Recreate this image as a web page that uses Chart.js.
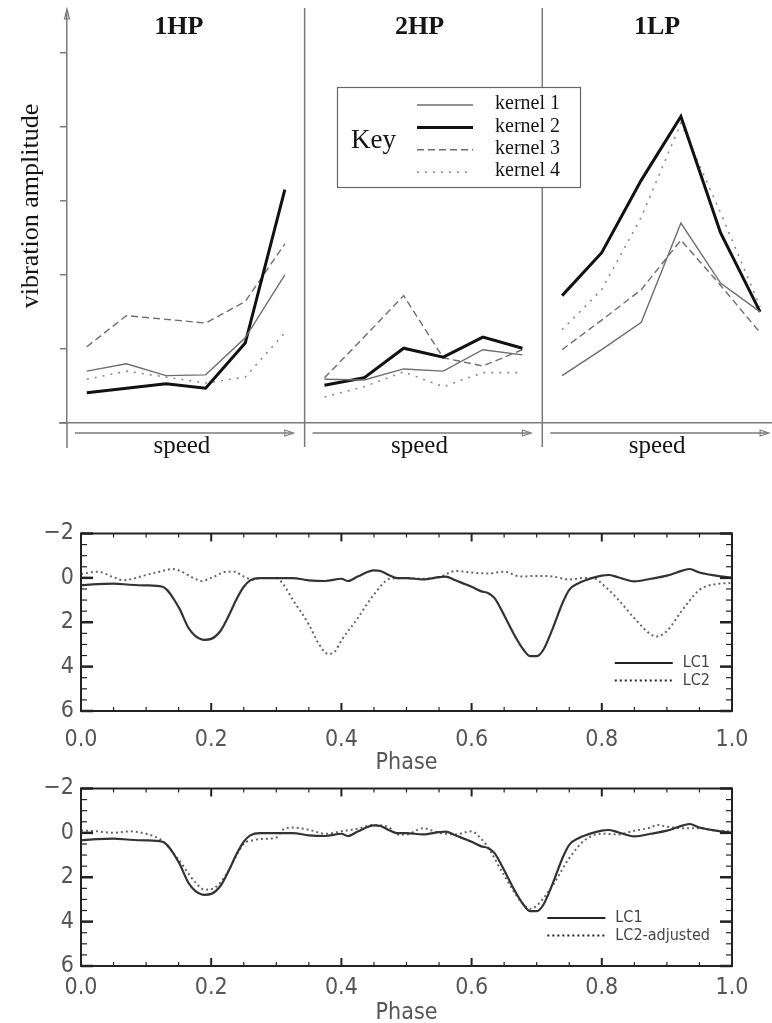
<!DOCTYPE html>
<html>
<head>
<meta charset="utf-8">
<script src="https://cdn.jsdelivr.net/npm/chart.js@4/dist/chart.umd.min.js"></script>
<style>
html, body { margin: 0; padding: 0; background: #fff; width: 772px; height: 1023px; overflow: hidden; }
.wrap { position: absolute; left: 0; width: 772px; }
</style>
</head>
<body>
<div class="wrap" style="top:0;height:470px"><canvas id="kernels"></canvas></div>
<div class="wrap" style="top:515px;height:260px"><canvas id="lcA"></canvas></div>
<div class="wrap" style="top:770px;height:260px"><canvas id="lcB"></canvas></div>
<script>
// ---------- top figure: vibration amplitude vs speed ----------
const panels = ['1HP', '2HP', '1LP'];
const speedSteps = [0, 1, 2, 3, 4, 5];
const kernelNames = ['kernel 1', 'kernel 2', 'kernel 3', 'kernel 4'];
// 6 speeds per panel, panels in order 1HP, 2HP, 1LP
const kernel1 = [0.70, 0.80, 0.64, 0.65, 1.15, 2.00,  0.59, 0.58, 0.73, 0.70, 0.99, 0.92,  0.64, 0.99, 1.36, 2.70, 1.89, 1.50];
const kernel2 = [0.41, 0.47, 0.53, 0.47, 1.08, 3.15,  0.51, 0.61, 1.01, 0.89, 1.16, 1.01,  1.72, 2.30, 3.28, 4.14, 2.57, 1.50];
const kernel3 = [1.03, 1.45, 1.40, 1.35, 1.64, 2.42,  0.61, 1.16, 1.72, 0.88, 0.77, 0.99,  0.99, 1.39, 1.80, 2.47, 1.86, 1.22];
const kernel4 = [0.59, 0.70, 0.62, 0.54, 0.62, 1.22,  0.35, 0.49, 0.69, 0.49, 0.68, 0.68,  1.26, 1.80, 2.78, 4.05, 2.84, 1.57];

// ---------- light curves ----------
const lc1Phase = [0, 0.025, 0.05, 0.075, 0.1, 0.125, 0.15, 0.165, 0.175, 0.19, 0.2, 0.215, 0.225, 0.24, 0.25, 0.26, 0.275, 0.3, 0.325, 0.35, 0.375, 0.4, 0.41, 0.425, 0.45, 0.46, 0.475, 0.485, 0.5, 0.525, 0.55, 0.56, 0.575, 0.6, 0.615, 0.625, 0.635, 0.65, 0.665, 0.68, 0.69, 0.7, 0.71, 0.725, 0.74, 0.75, 0.765, 0.775, 0.8, 0.81, 0.825, 0.85, 0.875, 0.9, 0.925, 0.935, 0.95, 0.975, 1.0];
const lc1Mag = [0.33, 0.28, 0.26, 0.31, 0.34, 0.40, 1.32, 2.25, 2.6, 2.79, 2.75, 2.36, 1.82, 0.9, 0.40, 0.11, 0.01, 0.01, 0.01, 0.11, 0.14, 0.04, 0.14, -0.06, -0.34, -0.31, -0.10, 0.01, 0.01, 0.07, -0.03, -0.06, 0.11, 0.40, 0.61, 0.68, 0.9, 1.68, 2.54, 3.25, 3.53, 3.53, 3.25, 2.25, 1.11, 0.54, 0.23, 0.11, -0.10, -0.13, -0.03, 0.16, 0.04, -0.10, -0.34, -0.40, -0.24, -0.10, 0.0];

const lc2Phase = [0, 0.025, 0.05, 0.065, 0.075, 0.1, 0.125, 0.14, 0.15, 0.175, 0.185, 0.2, 0.225, 0.235, 0.25, 0.265, 0.275, 0.3, 0.31, 0.325, 0.35, 0.365, 0.38, 0.39, 0.4, 0.425, 0.45, 0.475, 0.5, 0.525, 0.55, 0.575, 0.6, 0.625, 0.65, 0.675, 0.7, 0.725, 0.75, 0.775, 0.79, 0.8, 0.825, 0.85, 0.875, 0.885, 0.9, 0.925, 0.95, 0.975, 1.0];
const lc2Mag = [-0.17, -0.28, -0.03, 0.11, 0.07, -0.13, -0.31, -0.40, -0.34, 0.04, 0.14, 0.0, -0.28, -0.28, -0.06, 0.08, 0.0, 0.0, 0.26, 0.97, 2.1, 2.96, 3.43, 3.32, 2.82, 1.82, 0.75, 0.04, 0.01, 0.04, -0.03, -0.31, -0.24, -0.2, -0.28, -0.06, -0.09, -0.06, 0.07, 0.0, 0.04, 0.26, 0.97, 1.82, 2.54, 2.64, 2.39, 1.40, 0.54, 0.28, 0.23];

const lc2aPhase = [0, 0.025, 0.05, 0.075, 0.1, 0.125, 0.15, 0.175, 0.19, 0.2, 0.215, 0.225, 0.25, 0.265, 0.275, 0.3, 0.31, 0.325, 0.35, 0.375, 0.4, 0.425, 0.45, 0.475, 0.485, 0.5, 0.525, 0.55, 0.575, 0.6, 0.615, 0.625, 0.65, 0.675, 0.69, 0.7, 0.725, 0.75, 0.775, 0.8, 0.825, 0.85, 0.875, 0.885, 0.9, 0.925, 0.95, 0.975, 1.0];
const lc2aMag = [-0.11, -0.07, 0.0, -0.07, 0.04, 0.36, 1.21, 2.21, 2.56, 2.54, 2.21, 1.78, 0.5, 0.33, 0.28, 0.21, -0.14, -0.24, -0.14, 0.04, -0.07, -0.19, -0.36, -0.21, 0.07, 0.07, -0.21, 0.0, 0.07, -0.07, 0.28, 0.64, 1.92, 3.06, 3.42, 3.28, 2.35, 1.14, 0.3, 0.04, 0.07, -0.1, -0.24, -0.36, -0.28, -0.21, -0.21, -0.1, -0.07];

const phaseTicks = [0, 0.2, 0.4, 0.6, 0.8, 1.0];
const magTicks = [-2, 0, 2, 4, 6];

const SERIF = "'Liberation Serif', 'Times New Roman', 'DejaVu Serif', serif";
const NARROW = "'Liberation Sans Narrow', 'DejaVu Sans Condensed', 'Arial Narrow', sans-serif";

function seg(ctx, x0, y0, x1, y1) {
    ctx.beginPath();
    ctx.moveTo(x0, y0);
    ctx.lineTo(x1, y1);
    ctx.stroke();
}

// one line per kernel, broken between panels
function kernelPoints(values) {
    const pts = [];
    panels.forEach((name, p) => {
        speedSteps.forEach(s => pts.push({ x: p * 6 + s, y: values[p * 6 + s] }));
        pts.push({ x: p * 6 + 5.5, y: null });
    });
    return pts;
}

// axes, panel dividers, titles and the key box
const panelDecor = {
    id: 'panelDecor',
    afterDraw(chart) {
        const { ctx, chartArea: a, scales: { x } } = chart;
        ctx.save();
        ctx.strokeStyle = '#7a7a7a';
        ctx.lineWidth = 1.5;
        seg(ctx, a.left, a.bottom, a.left, 448);
        seg(ctx, 59, a.bottom, a.left, a.bottom);
        ctx.lineWidth = 1.2;
        ctx.beginPath();
        ctx.moveTo(a.left, a.top - 3);
        ctx.lineTo(a.left - 2.5, a.top + 7);
        ctx.lineTo(a.left + 2.5, a.top + 7);
        ctx.closePath();
        ctx.stroke();

        ctx.lineWidth = 1.5;
        for (let p = 1; p < panels.length; p++) {
            const px = x.getPixelForValue(p * 6 - 0.5);
            seg(ctx, px, 8, px, 447);
        }

        panels.forEach((name, p) => {
            const x0 = x.getPixelForValue(p * 6 - 0.3);
            const x1 = x.getPixelForValue(p * 6 + 5.2);
            ctx.strokeStyle = '#7a7a7a';
            ctx.lineWidth = 1.5;
            seg(ctx, x0, 433, x1, 433);
            ctx.lineWidth = 1.1;
            ctx.beginPath();
            ctx.moveTo(x1 + 1, 433);
            ctx.lineTo(x1 - 8, 430);
            ctx.lineTo(x1 - 8, 436);
            ctx.closePath();
            ctx.stroke();
            const cx = x.getPixelForValue(p * 6 + 2.4);
            ctx.fillStyle = '#151515';
            ctx.textAlign = 'center';
            ctx.textBaseline = 'middle';
            ctx.font = '25px ' + SERIF;
            ctx.fillText('speed', cx, 446);
            ctx.font = 'bold 26px ' + SERIF;
            ctx.fillText(name, cx - (p === 0 ? 3 : 0), 27);
        });

        ctx.save();
        ctx.translate(31, 206);
        ctx.rotate(-Math.PI / 2);
        ctx.font = '26px ' + SERIF;
        ctx.fillText('vibration amplitude', 0, 0);
        ctx.restore();

        // key
        ctx.fillStyle = '#fff';
        ctx.fillRect(337, 87, 243, 100);
        ctx.strokeStyle = '#666';
        ctx.lineWidth = 1.2;
        ctx.strokeRect(337.5, 87.5, 243, 100);
        ctx.fillStyle = '#151515';
        ctx.textAlign = 'left';
        ctx.font = '27px ' + SERIF;
        ctx.fillText('Key', 351, 141);
        ctx.font = '20px ' + SERIF;
        chart.data.datasets.forEach((ds, i) => {
            const ry = 104 + i * 22.4;
            ctx.strokeStyle = ds.borderColor;
            ctx.lineWidth = ds.borderWidth;
            ctx.setLineDash(ds.borderDash || []);
            seg(ctx, 417, ry + 1, 473, ry + 1);
            ctx.setLineDash([]);
            ctx.fillText(ds.label, 495, ry);
        });
        ctx.restore();
    }
};

const kernelStyles = [
    { borderColor: '#6e6e6e', borderWidth: 1.4, borderDash: [] },
    { borderColor: '#111111', borderWidth: 3, borderDash: [] },
    { borderColor: '#6e6e6e', borderWidth: 1.4, borderDash: [7, 4] },
    { borderColor: '#8a8a8a', borderWidth: 1.6, borderDash: [2, 6] }
];

new Chart(document.getElementById('kernels'), {
    type: 'line',
    data: {
        datasets: [kernel1, kernel2, kernel3, kernel4].map((vals, i) => Object.assign({
            label: kernelNames[i],
            data: kernelPoints(vals),
            pointRadius: 0,
            tension: 0,
            spanGaps: false
        }, kernelStyles[i]))
    },
    options: {
        responsive: true,
        maintainAspectRatio: false,
        animation: false,
        layout: { padding: { top: 12, left: 0, right: 0, bottom: 0 } },
        plugins: { legend: { display: false }, tooltip: { enabled: false } },
        scales: {
            x: {
                type: 'linear', min: -0.5, max: 17.3,
                afterFit(s) { s.height = 47; },
                ticks: { display: false },
                grid: { display: false },
                border: { display: true, color: '#7a7a7a', width: 1.5 }
            },
            y: {
                min: 0, max: 5.55,
                afterFit(s) { s.width = 67; },
                ticks: { display: false, stepSize: 1, includeBounds: false },
                grid: { drawOnChartArea: false, drawTicks: true, tickLength: 7, color: '#7a7a7a', lineWidth: 1.5 },
                border: { display: true, color: '#7a7a7a', width: 1.5 }
            }
        }
    },
    plugins: [panelDecor]
});

// IDL-style box with inward ticks on every side, plus the small key
const idlFrame = {
    id: 'idlFrame',
    afterDatasetsDraw(chart) {
        const { ctx, chartArea: a, scales: { x, y } } = chart;
        ctx.save();
        ctx.strokeStyle = '#222';
        for (let k = 0; k <= 20; k++) {
            const px = x.getPixelForValue(k * 0.05);
            const major = k % 4 === 0;
            ctx.lineWidth = major ? 2 : 1.2;
            const len = major ? 8 : 4;
            seg(ctx, px, a.bottom, px, a.bottom - len);
            seg(ctx, px, a.top, px, a.top + len);
        }
        for (let k = 0; k <= 16; k++) {
            const py = y.getPixelForValue(-2 + k * 0.5);
            const major = k % 4 === 0;
            ctx.lineWidth = major ? 2.5 : 1.2;
            const len = major ? 12 : 6;
            seg(ctx, a.left, py, a.left + len, py);
            seg(ctx, a.right, py, a.right - len, py);
        }
        ctx.lineWidth = 2;
        ctx.strokeRect(a.left, a.top, a.right - a.left, a.bottom - a.top);

        ctx.font = '16px ' + NARROW;
        const w = Math.max(...chart.data.datasets.map(d => ctx.measureText(d.label).width));
        const tx = a.right - 22 - w;
        chart.data.datasets.forEach((ds, i) => {
            const ry = a.top + 129.5 + i * 17.5;
            ctx.strokeStyle = '#222';
            ctx.lineWidth = 2;
            ctx.setLineDash(ds.borderDash || []);
            seg(ctx, tx - 68, ry, tx - 10, ry);
            ctx.setLineDash([]);
            ctx.fillStyle = '#444';
            ctx.textAlign = 'left';
            ctx.textBaseline = 'middle';
            ctx.fillText(ds.label, tx, ry);
        });
        ctx.restore();
    }
};

function lightCurveChart(id, secondLabel, secondPhase, secondMag, labelPad, titlePad) {
    const tickFont = { family: NARROW, size: 23, lineHeight: 1 };
    return new Chart(document.getElementById(id), {
        type: 'line',
        data: {
            datasets: [
                {
                    label: 'LC1',
                    data: lc1Phase.map((p, i) => ({ x: p, y: lc1Mag[i] })),
                    borderColor: '#333', borderWidth: 2.2,
                    pointRadius: 0, cubicInterpolationMode: 'monotone'
                },
                {
                    label: secondLabel,
                    data: secondPhase.map((p, i) => ({ x: p, y: secondMag[i] })),
                    borderColor: '#666', borderWidth: 2, borderDash: [2, 3],
                    pointRadius: 0, cubicInterpolationMode: 'monotone'
                }
            ]
        },
        options: {
            responsive: true,
            maintainAspectRatio: false,
            animation: false,
            layout: { padding: { top: 9, right: 40, left: 0, bottom: 0 } },
            plugins: { legend: { display: false }, tooltip: { enabled: false } },
            scales: {
                x: {
                    type: 'linear', min: 0, max: 1,
                    afterFit(s) { s.height = 64; },
                    afterBuildTicks(s) { s.ticks = phaseTicks.map(v => ({ value: v })); },
                    grid: { display: false, drawTicks: false },
                    border: { display: false },
                    ticks: {
                        padding: labelPad, autoSkip: false, maxRotation: 0,
                        callback: v => v.toFixed(1),
                        font: tickFont, color: '#555'
                    },
                    title: { display: true, text: 'Phase', font: tickFont, color: '#555', padding: { top: 0, bottom: titlePad } }
                },
                y: {
                    reverse: true, min: -2, max: 6,
                    afterFit(s) { s.width = 81; },
                    afterBuildTicks(s) { s.ticks = magTicks.map(v => ({ value: v })); },
                    grid: { display: false, drawTicks: false },
                    border: { display: false },
                    ticks: { padding: 7, font: tickFont, color: '#555', callback: v => String(v).replace('-', '\u2212') }
                }
            }
        },
        plugins: [idlFrame]
    });
}

lightCurveChart('lcA', 'LC2', lc2Phase, lc2Mag, 17.5, 0);
lightCurveChart('lcB', 'LC2-adjusted', lc2aPhase, lc2aMag, 10.5, 5.5);
</script>
</body>
</html>
